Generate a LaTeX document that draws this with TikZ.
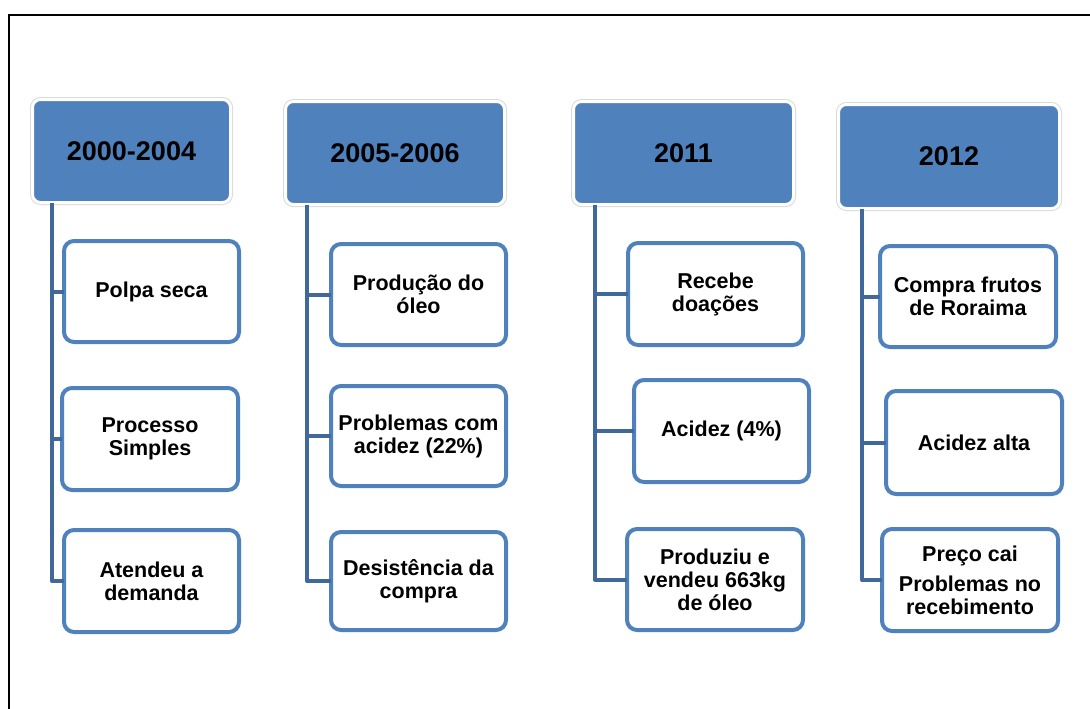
\documentclass[tikz,border=0pt]{standalone}
\usepackage{fontspec}
\setmainfont{Liberation Sans}
\definecolor{hdrblue}{RGB}{79,129,189}
\definecolor{edgeblue}{RGB}{79,129,189}
\definecolor{trunkblue}{RGB}{65,104,155}
\definecolor{hdrring}{RGB}{218,218,218}
\tikzset{
  hdr/.style={rectangle, rounded corners=8pt, fill=hdrblue, draw=white, line width=3pt,
    preaction={draw=hdrring, line width=5pt},
    inner sep=0pt, outer sep=0pt, align=center,
    font=\bfseries\fontsize{27}{30}\selectfont},
  itembox/.style={rectangle, rounded corners=10pt, fill=white, draw=edgeblue, line width=4pt,
    inner sep=0pt, outer sep=0pt, align=center,
    font=\bfseries\fontsize{21.5}{23}\selectfont},
  trunk/.style={draw=trunkblue, line width=4pt, line join=round}
}
\begin{document}
\begin{tikzpicture}[x=1pt, y=-1pt]
\useasboundingbox (0,0) rectangle (1090,709);
% outer frame (top and left edges)
\draw[line width=2.5pt] (9,709) -- (9,15) -- (1090,15);

% period headers
\node[hdr, minimum width=198pt, minimum height=103pt] (h1) at (131.5,151) {2000-2004};
\node[hdr, minimum width=219pt, minimum height=103pt] (h2) at (395,153) {2005-2006};
\node[hdr, minimum width=220pt, minimum height=103pt] (h3) at (683.5,153) {2011};
\node[hdr, minimum width=221pt, minimum height=104pt] (h4) at (949,156.5) {2012};

% trunk positions
\coordinate (t1) at (52,0);
\coordinate (t2) at (307,0);
\coordinate (t3) at (595,0);
\coordinate (t4) at (862,0);

% column 1
\node[itembox, minimum width=175pt, minimum height=101pt] (c1a) at (151.5,291.5) {Polpa seca};
\node[itembox, minimum width=176pt, minimum height=102pt] (c1b) at (150,439) {Processo\\Simples};
\node[itembox, minimum width=175pt, minimum height=102pt] (c1c) at (151.5,581) {Atendeu a\\demanda};

% column 2
\node[itembox, minimum width=175pt, minimum height=101pt] (c2a) at (418.5,294.5) {Produção do\\óleo};
\node[itembox, minimum width=175pt, minimum height=100pt] (c2b) at (418.5,436) {Problemas com\\acidez (22\%)};
\node[itembox, minimum width=175pt, minimum height=98pt] (c2c) at (418.5,581) {Desistência da\\compra};

% column 3
\node[itembox, minimum width=175pt, minimum height=102pt] (c3a) at (715.5,294) {Recebe\\doações};
\node[itembox, minimum width=175pt, minimum height=102pt] (c3b) at (721.5,431) {Acidez (4\%)};
\node[itembox, minimum width=176pt, minimum height=101pt] (c3c) at (715,579.5) {Produziu e\\vendeu 663kg\\de óleo};

% column 4
\node[itembox, minimum width=176pt, minimum height=101pt] (c4a) at (968,296.5) {Compra frutos\\de Roraima};
\node[itembox, minimum width=176pt, minimum height=103pt] (c4b) at (974,442.5) {Acidez alta};
\node[itembox, minimum width=176pt, minimum height=102pt] (c4c) at (970,580) {Preço cai\\[7pt]Problemas no\\recebimento};

% connectors
\draw[trunk] (h1.south -| t1) |- (c1c.west);
\draw[trunk] (c1a.west -| t1) -- (c1a.west);
\draw[trunk] (c1b.west -| t1) -- (c1b.west);

\draw[trunk] (h2.south -| t2) |- (c2c.west);
\draw[trunk] (c2a.west -| t2) -- (c2a.west);
\draw[trunk] (c2b.west -| t2) -- (c2b.west);

\draw[trunk] (h3.south -| t3) |- (c3c.west);
\draw[trunk] (c3a.west -| t3) -- (c3a.west);
\draw[trunk] (c3b.west -| t3) -- (c3b.west);

\draw[trunk] (h4.south -| t4) |- (c4c.west);
\draw[trunk] (c4a.west -| t4) -- (c4a.west);
\draw[trunk] (c4b.west -| t4) -- (c4b.west);
\end{tikzpicture}
\end{document}
